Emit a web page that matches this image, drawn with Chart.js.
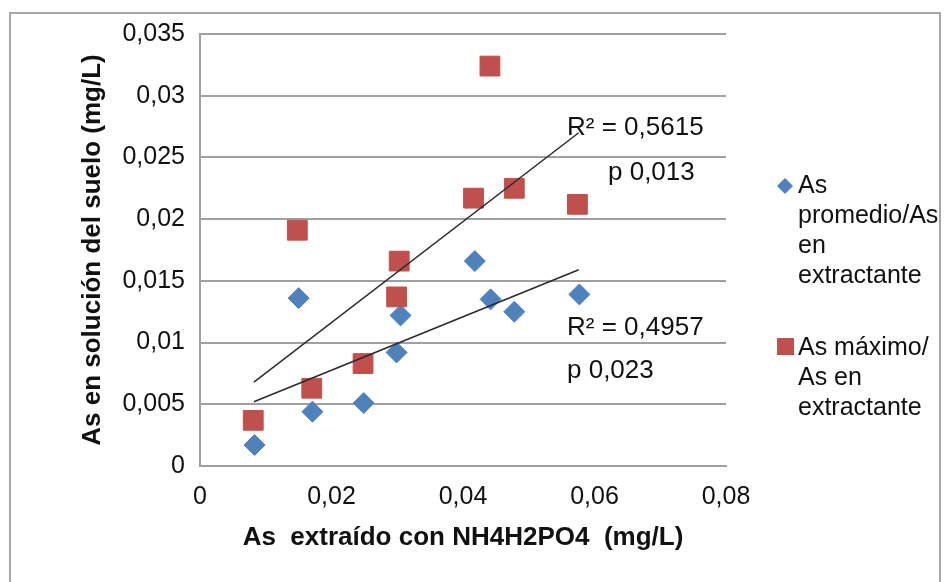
<!DOCTYPE html>
<html>
<head>
<meta charset="utf-8">
<script src="https://cdn.jsdelivr.net/npm/chart.js@4.4.0/dist/chart.umd.min.js"></script>
<style>
    html, body { margin: 0; padding: 0; background: #fff; }
    #caja { position: relative; width: 950px; height: 582px; }
</style>
</head>
<body>
<div id="caja"><canvas id="grafico-as" width="950" height="582"></canvas></div>
<script>
// valores
var xPromedio = [0.0083, 0.0150, 0.0171, 0.0249, 0.0299, 0.0305, 0.0418, 0.0442, 0.0478, 0.0577]
var yPromedio = [0.0017, 0.0136, 0.0044, 0.0051, 0.0092, 0.0122, 0.0166, 0.0135, 0.0125, 0.0139]
var xMaximo = [0.0081, 0.0148, 0.0170, 0.0248, 0.0299, 0.0303, 0.0416, 0.0441, 0.0478, 0.0574]
var yMaximo = [0.0037, 0.0191, 0.0063, 0.0083, 0.0137, 0.0166, 0.0217, 0.0324, 0.0225, 0.0212]

// lineas de tendencia (extremos)
var xTendencia = [0.0082, 0.0576]
var yTendenciaPromedio = [0.0052, 0.0159]
var yTendenciaMaximo = [0.0068, 0.0270]

var leyendaPromedio = ['As', 'promedio/As', 'en', 'extractante']
var leyendaMaximo = ['As máximo/', 'As en', 'extractante']
var textoMaximo = ['R² = 0,5615', 'p 0,013']
var textoPromedio = ['R² = 0,4957', 'p 0,023']

var azul = '#4F81BD'
var rojo = '#C0504D'
var gris = '#a0a0a0'
var fuente = '"Liberation Sans", Arial, sans-serif'

function puntos(xs, ys) {
    return xs.map((x, i) => ({ x: x, y: ys[i] }))
}

function coma(v) {
    return String(parseFloat(Number(v).toFixed(4))).replace('.', ',')
}

var extras = {
    id: 'extras',
    beforeDraw(chart) {
        let ctx = chart.ctx
        ctx.save()
        ctx.strokeStyle = '#a8a8a8'
        ctx.lineWidth = 2
        ctx.strokeRect(10, 13, 930, 620)
        ctx.restore()
    },
    afterDraw(chart) {
        let ctx = chart.ctx
        ctx.save()
        ctx.fillStyle = '#111'
        ctx.font = '26px ' + fuente
        ctx.textBaseline = 'alphabetic'
        ctx.textAlign = 'left'

        // anotaciones R² y p
        ctx.fillText(textoMaximo[0], 567, 135)
        ctx.fillText(textoMaximo[1], 608, 180)
        ctx.fillText(textoPromedio[0], 567, 335)
        ctx.fillText(textoPromedio[1], 567, 378)

        // leyenda
        ctx.font = '25px ' + fuente
        leyendaPromedio.forEach((t, i) => ctx.fillText(t, 798, 193 + i * 30))
        leyendaMaximo.forEach((t, i) => ctx.fillText(t, 798, 355 + i * 30))

        ctx.fillStyle = azul
        ctx.beginPath()
        ctx.moveTo(777, 186)
        ctx.lineTo(785, 178)
        ctx.lineTo(793, 186)
        ctx.lineTo(785, 194)
        ctx.closePath()
        ctx.fill()

        ctx.fillStyle = rojo
        ctx.fillRect(777, 338, 17, 17)
        ctx.restore()
    }
}

var ctxAs = document.querySelector('#grafico-as')

new Chart(ctxAs, {
    type: 'scatter',
    data: {
        datasets: [
            {
                type: 'line',
                label: 'tendencia maximo',
                data: puntos(xTendencia, yTendenciaMaximo),
                borderColor: '#2a2a2a',
                borderWidth: 1.5,
                pointRadius: 0,
                fill: false,
                order: 0
            },
            {
                type: 'line',
                label: 'tendencia promedio',
                data: puntos(xTendencia, yTendenciaPromedio),
                borderColor: '#2a2a2a',
                borderWidth: 1.5,
                pointRadius: 0,
                fill: false,
                order: 0
            },
            {
                label: 'As máximo/As en extractante',
                data: puntos(xMaximo, yMaximo),
                pointStyle: 'rect',
                pointRadius: 14,
                backgroundColor: rojo,
                borderColor: rojo,
                borderWidth: 1,
                order: 1
            },
            {
                label: 'As promedio/As en extractante',
                data: puntos(xPromedio, yPromedio),
                pointStyle: 'rectRot',
                pointRadius: 10.5,
                backgroundColor: azul,
                borderColor: azul,
                borderWidth: 1,
                order: 2
            }
        ]
    },
    options: {
        responsive: false,
        animation: false,
        events: [],
        layout: {
            padding: { left: 0, top: 34, right: 224, bottom: 0 }
        },
        plugins: {
            legend: { display: false },
            tooltip: { enabled: false }
        },
        scales: {
            x: {
                type: 'linear',
                min: 0,
                max: 0.08,
                afterFit: (s) => { s.height = 116 },
                grid: { display: false, drawTicks: false },
                border: { display: true, color: gris, width: 2 },
                ticks: {
                    stepSize: 0.02,
                    padding: 16,
                    color: '#111',
                    font: { family: fuente, size: 25 },
                    callback: (v) => coma(v)
                },
                title: {
                    display: true,
                    text: 'As  extraído con NH4H2PO4  (mg/L)',
                    color: '#111',
                    font: { family: fuente, size: 26, weight: 'bold' },
                    padding: { top: 0, bottom: 29 }
                }
            },
            y: {
                min: 0,
                max: 0.035,
                afterFit: (s) => { s.width = 200 },
                grid: { color: gris, lineWidth: 2, drawTicks: false },
                border: { display: true, color: gris, width: 2 },
                ticks: {
                    stepSize: 0.005,
                    padding: 15,
                    color: '#111',
                    font: { family: fuente, size: 25 },
                    callback: (v) => coma(v)
                },
                title: {
                    display: true,
                    text: 'As en solución del suelo (mg/L)',
                    color: '#111',
                    font: { family: fuente, size: 26, weight: 'bold' },
                    padding: { top: 77, bottom: 0 }
                }
            }
        }
    },
    plugins: [extras]
})
</script>
</body>
</html>
